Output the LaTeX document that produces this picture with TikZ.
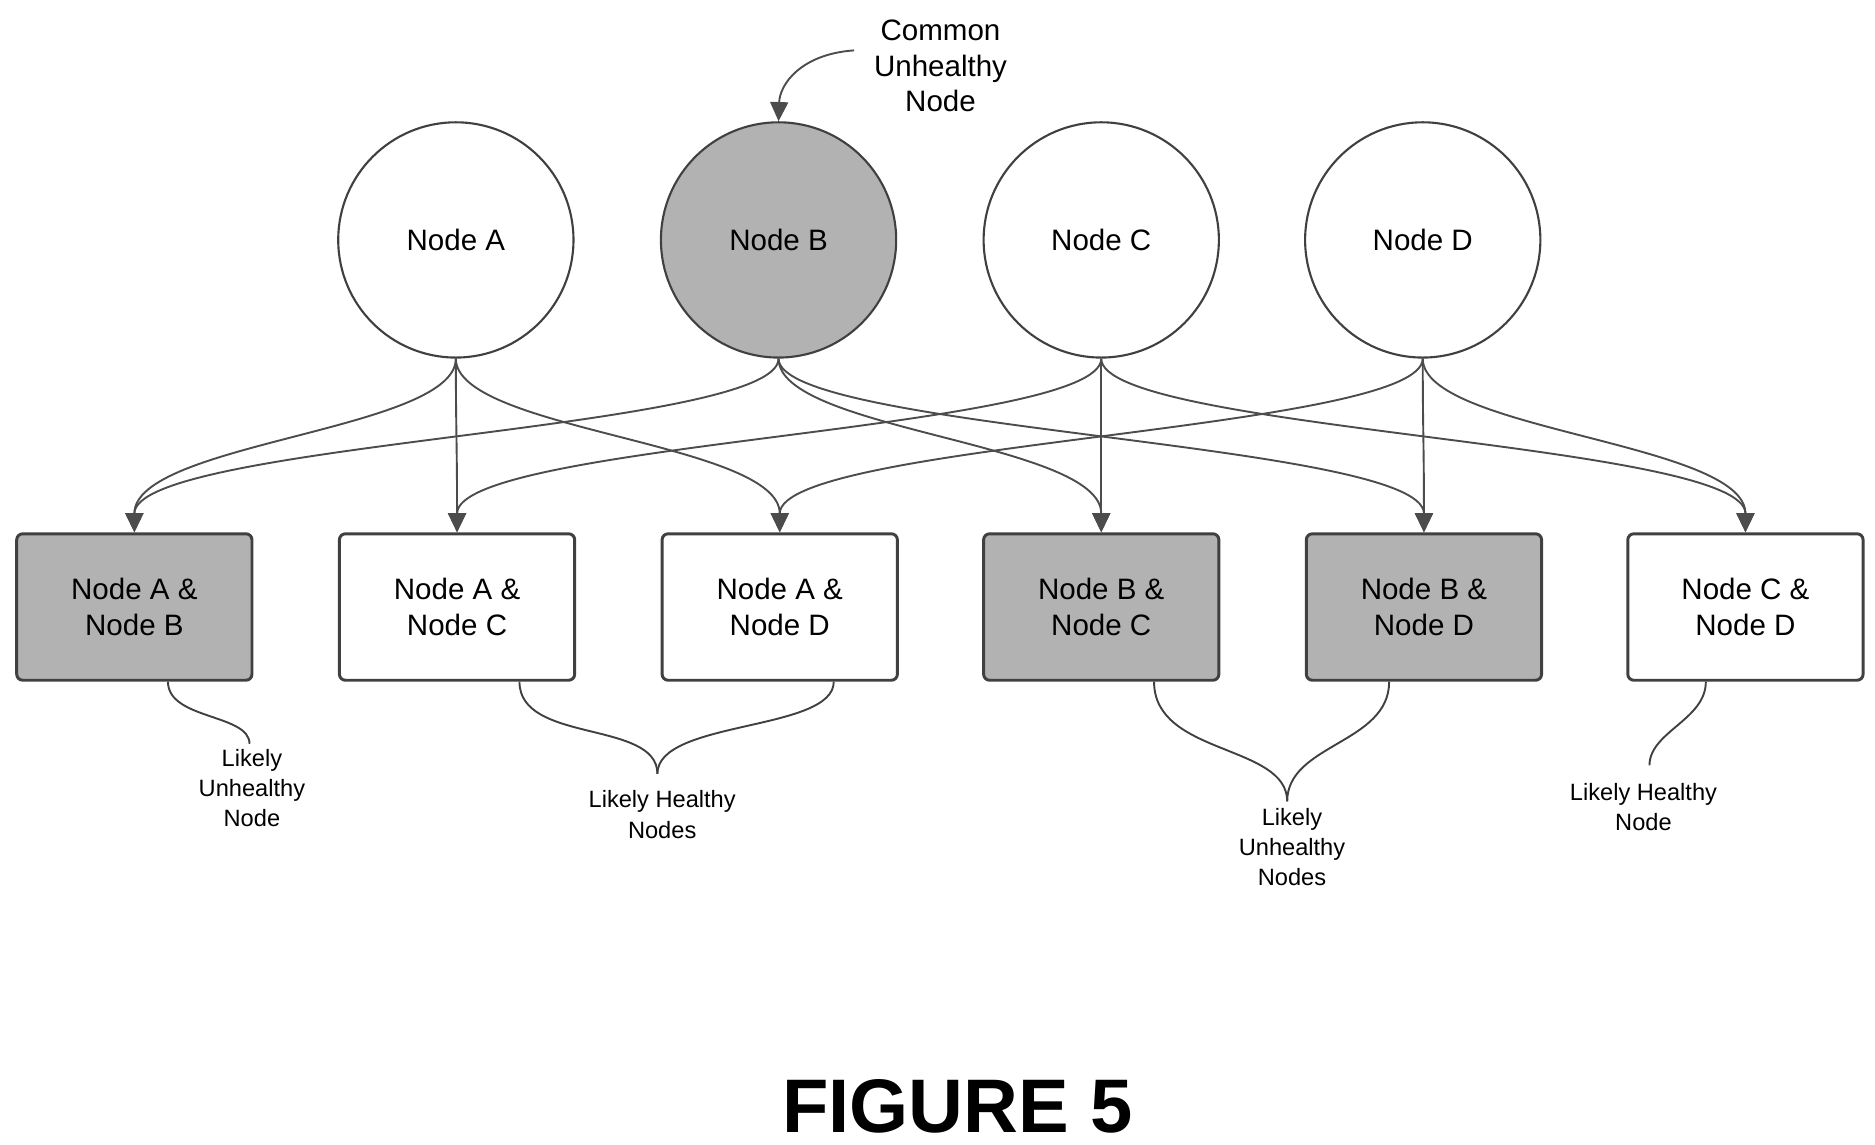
\documentclass[tikz,border=0pt]{standalone}
\usepackage{fontspec}
\setmainfont{Liberation Sans}
\usetikzlibrary{arrows.meta}
\begin{document}
\begin{tikzpicture}[x=0.01cm,y=-0.01cm,
  circ/.style={circle,draw=black!75,line width=0.5pt,minimum size=1.96cm,inner sep=0pt,font=\fontsize{7pt}{8.5pt}\selectfont},
  box/.style={rectangle,rounded corners=0.05cm,draw=black!75,line width=0.7pt,minimum width=1.96cm,minimum height=1.22cm,align=center,font=\fontsize{7pt}{8.4pt}\selectfont},
  sh/.style={fill=black!30},
  arr/.style={draw=black!70,line width=0.45pt,-{Triangle[length=0.16cm,width=0.15cm]}},
  br/.style={draw=black!75,line width=0.45pt},
  lbl/.style={align=center,font=\fontsize{5.6pt}{7.2pt}\selectfont},
  call/.style={align=center,font=\fontsize{7pt}{8.4pt}\selectfont}]
\useasboundingbox (0,0) rectangle (1563,954);
\node[circ] (A) at (380,200) {Node A};
\node[circ,sh] (B) at (649,200) {Node B};
\node[circ] (C) at (918,200) {Node C};
\node[circ] (D) at (1186,200) {Node D};
\node[box,sh] (AB) at (112,506) {Node A \&\\Node B};
\node[box] (AC) at (381,506) {Node A \&\\Node C};
\node[box] (AD) at (650,506) {Node A \&\\Node D};
\node[box,sh] (BC) at (918,506) {Node B \&\\Node C};
\node[box,sh] (BD) at (1187,506) {Node B \&\\Node D};
\node[box] (CD) at (1455,506) {Node C \&\\Node D};
\foreach \s/\t in {A/AB,A/AC,A/AD,B/AB,B/BC,B/BD,C/AC,C/BC,C/CD,D/AD,D/BD,D/CD}{
  \draw[arr] (\s.south) .. controls ([yshift=-0.6cm]\s.south) and ([yshift=0.75cm]\t.north) .. (\t.north);
}
\node[call] (c1) at (784,55) {Common\\Unhealthy\\Node};
\coordinate (cs) at (712,42);
\draw[arr] (cs) .. controls (668,45) and (650,70) .. (B.north);
% braces
\node[lbl] (l1) at (210,657) {Likely\\Unhealthy\\Node};
\coordinate (m1) at (208,620);
\draw[br] ([xshift=0.28cm]AB.south) .. controls (140,600) and (208,595) .. (m1);
\node[lbl] (l2) at (552,679) {Likely Healthy\\Nodes};
\coordinate (m2) at (548,645);
\draw[br] ([xshift=0.52cm]AC.south) .. controls (433,620) and (548,600) .. (m2);
\draw[br] ([xshift=0.45cm]AD.south) .. controls (695,610) and (548,600) .. (m2);
\node[lbl] (l3) at (1077,706) {Likely\\Unhealthy\\Nodes};
\coordinate (m3) at (1073,668);
\draw[br] ([xshift=0.44cm]BC.south) .. controls (962,630) and (1073,620) .. (m3);
\draw[br] ([xshift=-0.29cm]BD.south) .. controls (1158,620) and (1073,620) .. (m3);
\node[lbl] (l4) at (1370,673) {Likely Healthy\\Node};
\coordinate (m4) at (1375,638);
\draw[br] ([xshift=-0.33cm]CD.south) .. controls (1422,600) and (1375,610) .. (m4);
\node[font=\bfseries\fontsize{18pt}{22pt}\selectfont] (fig) at (798,922) {FIGURE 5};
\end{tikzpicture}
\end{document}
